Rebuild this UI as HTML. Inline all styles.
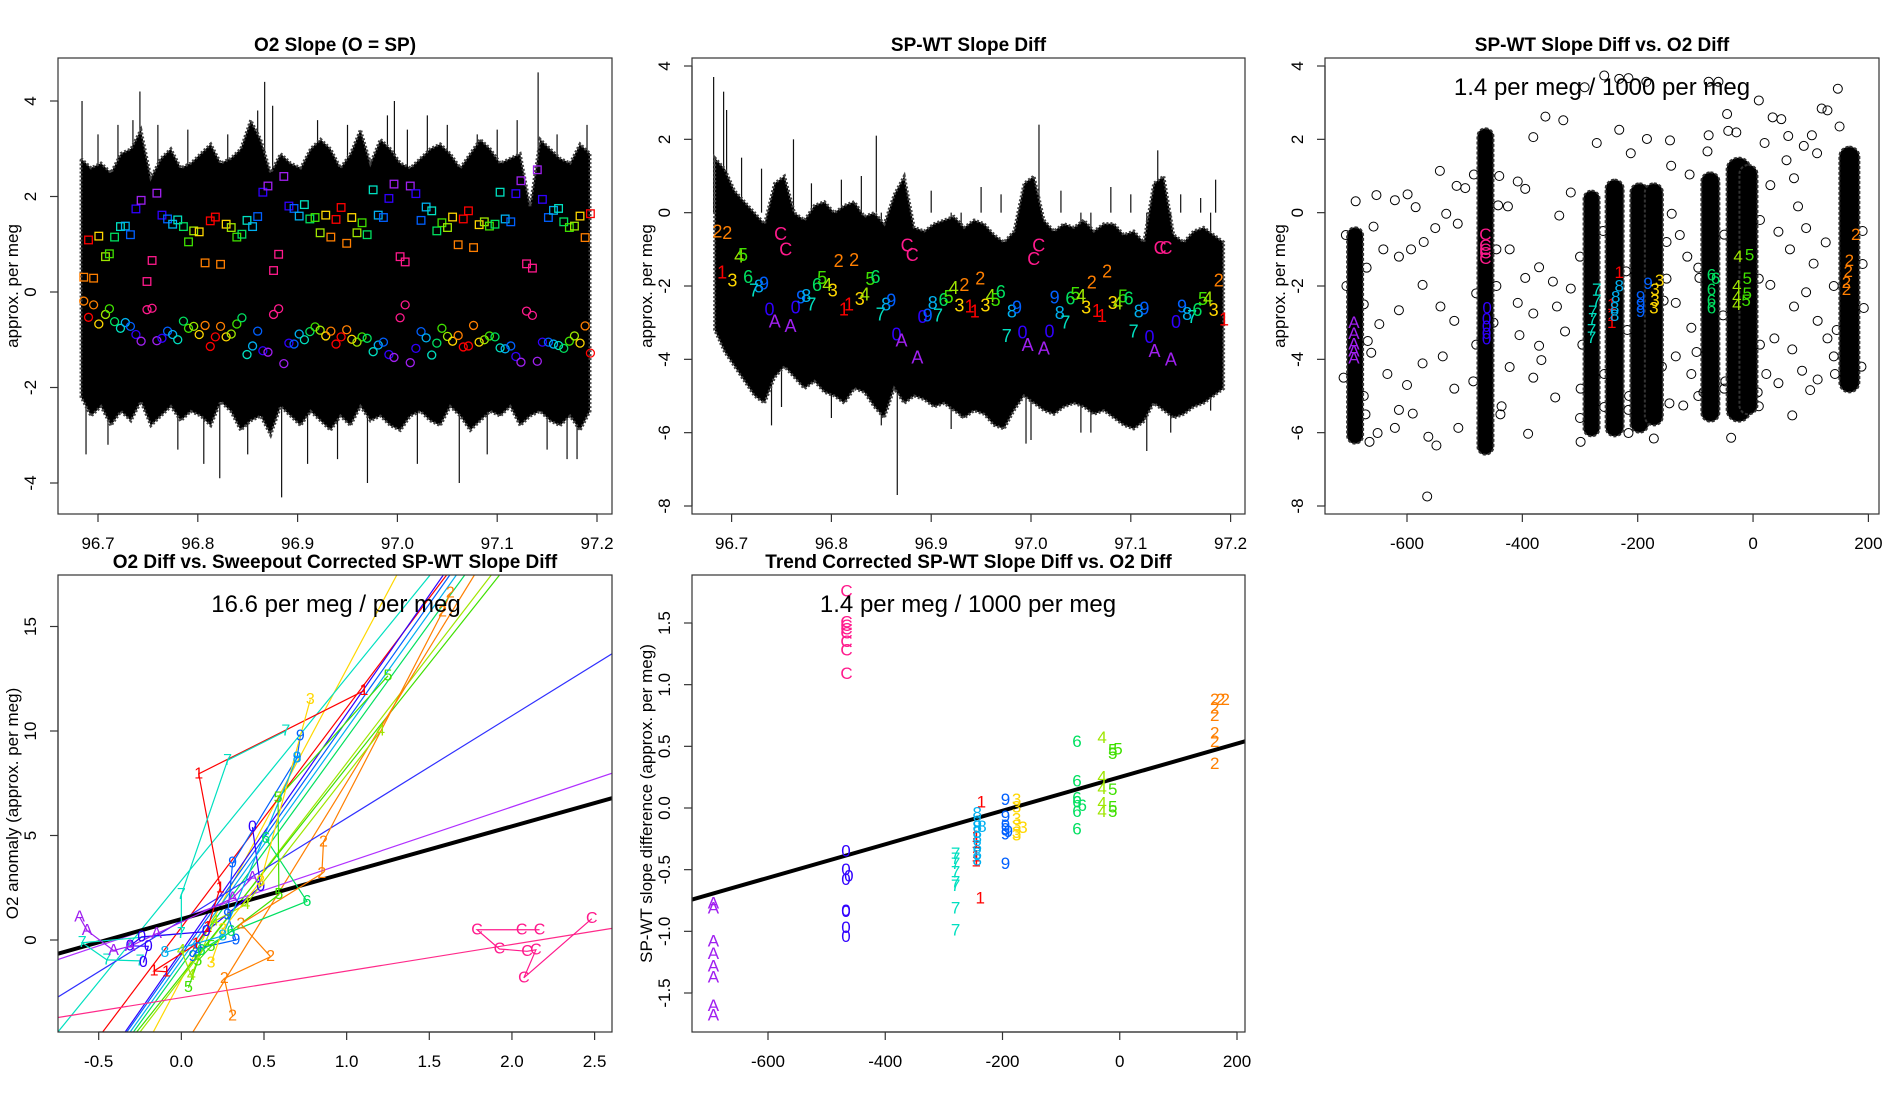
<!DOCTYPE html>
<html><head><meta charset="utf-8"><title>SP-WT slope diagnostics</title>
<style>html,body{margin:0;padding:0;background:#fff;width:1900px;height:1100px;overflow:hidden}svg{display:block;font-family:"Liberation Sans",sans-serif}</style>
</head><body>
<svg id="fig" width="1900" height="1100" viewBox="0 0 1900 1100" xmlns="http://www.w3.org/2000/svg"></svg>
<script>
// ---------- DATA ----------
const labelColors = {"1":"#ff0000","2":"#ff7f00","3":"#ffd700","4":"#9fe600","5":"#3fe000","6":"#00e060","7":"#00e0c0","8":"#00b0f0","9":"#0060ff","0":"#3000ff","A":"#a020f0","C":"#ff1a8c"};
const labelSeq = "21234567890ACC"+"A09876543211234567890ACC"+"A09876543211234567890ACC"+"A09876543211234567890ACC"+"A0987654321";
const envTimes = [96.683,96.693,96.703,96.713,96.723,96.733,96.743,96.753,96.763,96.773,96.783,96.793,96.803,96.813,96.823,96.833,96.843,96.853,96.863,96.873,96.883,96.893,96.903,96.913,96.923,96.933,96.943,96.953,96.963,96.973,96.983,96.993,97.003,97.013,97.023,97.033,97.043,97.053,97.063,97.073,97.083,97.093,97.103,97.113,97.123,97.133,97.143,97.153,97.163,97.173,97.183,97.193];
const upper1 = [2.8,2.6,2.7,2.5,2.9,3.0,3.4,2.4,2.8,3.0,2.6,2.7,2.9,3.1,2.7,2.8,3.0,3.6,3.2,2.5,2.9,2.7,2.6,3.0,3.2,3.0,2.6,2.9,3.4,2.7,3.2,3.0,2.7,2.6,2.8,3.0,3.1,2.9,2.6,2.9,3.2,3.0,2.7,2.8,2.9,1.8,3.2,3.0,2.8,2.7,3.1,2.9];
const lower1 = [-2.2,-2.6,-2.4,-2.8,-2.5,-2.7,-2.3,-2.8,-2.6,-2.4,-2.7,-2.5,-2.6,-2.8,-2.3,-2.5,-2.9,-2.7,-2.6,-3.0,-2.4,-2.6,-2.8,-2.5,-2.7,-2.9,-2.6,-2.8,-2.4,-2.7,-2.6,-2.8,-2.9,-2.6,-2.5,-2.7,-2.8,-2.4,-2.6,-2.9,-2.7,-2.5,-2.6,-2.4,-2.8,-2.6,-2.5,-2.7,-2.8,-2.6,-2.9,-2.5];
const spikeT1 = [96.684,96.688,96.742,96.806,96.822,96.867,96.884,96.97,96.997,97.062,97.141,97.18,97.19,96.72,96.91,97.03,96.70,96.735,96.76,96.79,96.83,96.86,96.875,96.92,96.95,96.99,97.01,97.05,97.08,97.10,97.12,97.16,96.71,96.78,96.85,96.94,97.02,97.09,97.15,97.17];
const spikeV1 = [4.0,-3.4,4.2,-3.6,-3.9,4.4,-4.3,-4.0,4.0,-4.0,4.6,-3.5,3.5,3.5,-3.6,3.7,3.3,3.6,3.5,3.4,3.3,3.8,3.9,3.6,3.5,3.7,3.4,3.5,3.3,3.4,3.6,3.3,-3.2,-3.3,-3.4,-3.5,-3.6,-3.4,-3.3,-3.5];

const upper2 = [1.5,1.2,0.6,0.3,0.0,-0.3,0.8,1.0,0.0,-0.2,0.2,0.3,0.0,0.2,0.3,-0.1,0.0,-0.3,0.5,1.0,-0.4,-0.5,-0.3,-0.2,-0.1,-0.4,-0.2,-0.3,-0.6,-0.8,-0.5,0.8,1.0,-0.2,-0.5,-0.3,-0.4,-0.2,-0.5,-0.3,-0.3,-0.6,-0.5,-0.8,0.8,1.0,-0.6,-0.8,-0.5,-0.4,-0.6,-0.8];
const lower2 = [-3.2,-3.8,-4.2,-4.6,-5.0,-5.2,-4.5,-4.2,-4.5,-4.8,-4.6,-4.9,-5.0,-5.2,-4.8,-4.9,-5.3,-5.6,-4.8,-5.2,-5.0,-5.1,-5.3,-5.2,-5.4,-5.6,-5.4,-5.5,-5.8,-5.9,-5.4,-5.0,-5.2,-5.4,-5.5,-5.3,-5.2,-5.3,-5.5,-5.4,-5.6,-5.8,-5.9,-5.7,-5.2,-5.4,-5.6,-5.5,-5.3,-5.2,-5.0,-4.8];
const spikeT2 = [96.682,96.692,96.695,96.762,96.845,96.866,97.008,97.127,96.93,97.116,96.995,96.74,97.06,96.71,96.73,96.78,96.81,96.83,96.90,96.95,96.97,97.03,97.08,97.10,97.15,97.17,97.185,96.75,96.80,96.85,96.92,97.00,97.05,97.14,97.18];
const spikeV2 = [3.7,3.3,2.8,2.0,2.1,-7.7,2.4,1.7,-5.6,-6.5,-6.3,-5.8,-6.0,1.5,1.2,0.8,0.9,1.0,0.6,0.7,0.5,0.6,0.7,0.5,0.5,0.4,0.9,-5.3,-5.6,-5.8,-5.9,-6.2,-6.0,-6.0,-5.4];
const times2 = [96.6857,96.6956,96.7075,96.7114,96.6905,96.7008,96.7166,96.7225,96.7274,96.7325,96.738,96.7432,96.7491,96.7542,
96.759,96.7641,96.7697,96.7748,96.7799,96.7856,96.7907,96.7959,96.8014,96.8073,96.8125,96.8176,96.8228,96.8284,96.8335,96.8391,96.8442,96.8493,96.8549,96.86,96.8652,96.8703,96.8759,96.881,
96.8862,96.8913,96.8964,96.9068,96.9016,96.9123,96.9175,96.9226,96.9282,96.9333,96.9385,96.9436,96.9492,96.9543,96.9595,96.9646,96.9697,96.9757,96.9808,96.986,96.9915,96.9966,97.0027,97.0078,
97.0129,97.0185,97.0237,97.0288,97.0344,97.0395,97.0446,97.0502,97.0553,97.0609,97.066,97.0712,97.0763,97.0819,97.0871,97.0922,97.0978,97.1029,97.108,97.1136,97.1187,97.1238,97.1294,97.1353,
97.1402,97.1453,97.1513,97.1564,97.1615,97.1667,97.1723,97.1774,97.183,97.1881,97.1934];
const vals2 = [-0.52,-0.56,-1.2,-1.15,-1.63,-1.85,-1.76,-2.12,-2.02,-1.93,-2.64,-2.97,-0.58,-1.0,
-3.09,-2.58,-2.32,-2.27,-2.51,-1.97,-1.78,-1.97,-2.12,-1.32,-2.64,-2.51,-1.29,-2.36,-2.23,-1.81,-1.75,-2.78,-2.51,-2.39,-3.32,-3.48,-0.9,-1.15,
-3.95,-2.85,-2.8,-2.8,-2.46,-2.38,-2.3,-2.05,-2.53,-1.97,-2.56,-2.7,-1.8,-2.53,-2.27,-2.38,-2.17,-3.37,-2.7,-2.58,-3.27,-3.61,-1.26,-0.9,
-3.7,-3.24,-2.32,-2.73,-3.0,-2.34,-2.22,-2.27,-2.58,-1.91,-2.68,-2.82,-1.61,-2.46,-2.48,-2.29,-2.34,-3.24,-2.7,-2.61,-3.39,-3.77,-0.97,-0.97,
-4.0,-2.98,-2.56,-2.77,-2.85,-2.66,-2.36,-2.34,-2.66,-1.85,-2.92];
const labs2 = "22451367890ACC"+"A09876543211234567890ACC"+"A09786543211234567890ACC"+"A09876543211234567890ACC"+"A0987654321";
const squares1 = [0.31,1.09,0.29,1.17,0.74,0.8,1.15,1.37,1.38,1.2,1.74,1.92,0.22,0.66,2.07,1.61,1.53,1.42,1.51,1.37,1.05,1.28,1.26,0.61,1.49,1.57,0.58,1.42,1.35,1.15,1.21,1.5,1.37,1.58,2.09,2.22,0.45,0.79,2.42,1.8,1.75,1.59,1.83,1.53,1.56,1.24,1.61,1.15,1.52,1.77,1.02,1.56,1.24,1.45,1.2,2.14,1.61,1.56,1.96,2.26,0.74,0.63,2.22,2.06,1.5,1.78,1.7,1.28,1.45,1.35,1.57,0.99,1.53,1.7,0.93,1.41,1.47,1.38,1.42,2.09,1.53,1.47,2.06,2.33,0.59,0.5,2.56,1.94,1.56,1.71,1.75,1.47,1.35,1.38,1.59,1.14,1.64];
const circles1 = [-0.19,-0.53,-0.27,-0.67,-0.47,-0.35,-0.62,-0.76,-0.64,-0.72,-0.89,-1.03,-0.37,-0.34,-1.02,-0.97,-0.82,-0.89,-1.0,-0.61,-0.76,-0.72,-0.89,-0.7,-1.14,-0.94,-0.72,-0.94,-0.88,-0.67,-0.54,-1.31,-1.13,-0.82,-1.23,-1.26,-0.47,-0.35,-1.5,-1.07,-1.09,-0.88,-1.0,-0.83,-0.73,-0.8,-0.92,-0.82,-1.09,-0.94,-0.79,-0.99,-1.05,-0.94,-0.97,-1.25,-1.11,-1.05,-1.31,-1.37,-0.54,-0.27,-1.48,-1.18,-0.83,-0.96,-1.32,-1.07,-0.76,-0.93,-1.03,-0.91,-1.15,-1.13,-0.7,-1.05,-1.0,-0.92,-0.94,-1.17,-1.19,-1.13,-1.35,-1.47,-0.4,-0.49,-1.45,-1.05,-1.05,-1.09,-1.12,-1.18,-1.03,-0.92,-1.07,-0.71,-1.28];

const clusterX3 = [-690,-464,-280,-240,-197,-172,-74,-25,-8,167];
const clusterTop3 = [-0.4,2.3,0.6,0.9,0.8,0.8,1.1,1.5,1.3,1.8];
const clusterBot3 = [-6.3,-6.6,-6.1,-6.1,-6.0,-5.8,-5.7,-5.7,-5.5,-4.9];
const clusterW3 = [16,16,16,18,18,18,18,24,18,20];
const scatX3 = [-706,-689,-653,-621,-599,-585,-543,-514,-499,-484,-658,-641,-614,-593,-571,-551,-532,-512,-573,-542,-518,-614,-648,-662,-634,-600,-573,-538,-518,-614,-651,-621,-590,-563,-549,-511,-565,-665,
-425,-408,-395,-381,-360,-329,-336,-316,-422,-395,-371,-347,-316,-408,-381,-340,-405,-371,-326,-422,-381,-343,-390,-436,-367,
-271,-232,-184,-212,-144,-142,-110,-77,-79,-45,-43,-29,-141,-127,-114,-93,-134,-107,-134,-107,-86,-66,-38,-299,-216,-172,-121,-299,-216,
10,20,30,34,49,61,58,71,78,88,102,111,119,129,147,150,44,64,92,105,126,30,71,92,112,129,37,68,85,112,99,23,44,68,140,10,
-77,-60,-258,-292,-232,-216,-185,
-670,-675,-668,-705,-710,-672,-440,-445,-450,-480,-485,-438,-442,-300,-296,-260,-258,-220,-218,-215,-150,-155,-158,-145,-95,-98,-50,-52,-48,10,12,8,140,145,190,192,188,-675,-480,-445,-300,-258,-150,-95,-50,12,142,190];
const scatY3 = [-0.61,0.31,0.48,0.34,0.5,0.15,1.14,0.73,0.67,1.04,-0.38,-1.0,-1.2,-1.0,-0.8,-0.42,-0.03,-0.3,-1.97,-2.56,-2.95,-2.66,-3.04,-3.82,-4.4,-4.7,-4.11,-3.92,-4.8,-5.38,-6.01,-5.87,-5.48,-6.11,-6.35,-5.87,-7.74,-6.25,
0.17,0.85,0.65,2.06,2.62,2.52,-0.08,0.55,-1.0,-1.78,-1.49,-1.88,-2.07,-2.46,-2.75,-2.56,-3.34,-3.63,-3.24,-4.21,-4.5,-5.04,-6.03,-5.28,-4.02,
1.9,2.26,2.01,1.62,1.97,1.28,1.04,2.11,1.67,2.69,2.23,2.19,-0.03,-0.61,-1.2,-1.78,-2.46,-3.14,-3.92,-4.4,-4.9,-5.18,-6.14,-6.25,-6.01,-6.16,-5.26,-4.8,-5.38,
3.06,1.9,0.75,2.6,2.55,2.09,1.43,0.94,0.17,1.82,2.11,1.62,2.84,2.79,3.38,2.35,-0.52,-1.0,-0.42,-1.39,-0.81,-1.97,-2.56,-2.17,-2.95,-3.43,-3.43,-3.73,-4.31,-4.55,-4.84,-4.4,-4.65,-5.53,-3.92,-5.28,
3.57,3.57,3.74,3.42,3.65,3.67,3.57,
-1.5,-2.5,-3.5,-2.0,-4.5,-5.5,1.0,-1.0,-3.0,-2.2,-4.6,-5.5,0.2,-1.2,-3.6,-0.5,-4.4,-1.6,-3.2,-5.0,-0.8,-2.4,-4.2,-5.2,-1.5,-3.8,-0.6,-2.8,-4.6,-1.8,-3.6,-4.9,-2.0,-3.2,-0.5,-2.6,-4.2,-5.0,-3.6,-2.0,-5.6,-5.3,-1.8,-5.0,-4.8,-0.2,-4.4,-1.4];
const labX3 = [-692,-692,-692,-692,-692,-464,-464,-464,-464,-464,-461,-462,-462,-462,-462,-271,-271,-278,-278,-280,-280,-232,-245,-245,-245,-232,-238,-240,-240,-182,-195,-195,-195,-162,-170,-170,-172,-72,-65,-72,-72,-72,-26,-28,-28,-28,-6,-10,-10,-12,178,167,165,162,162];
const labY3 = [-3.0,-3.3,-3.58,-3.77,-3.97,-0.6,-0.9,-1.0,-1.1,-1.25,-2.6,-2.9,-3.1,-3.3,-3.45,-2.1,-2.4,-2.7,-2.9,-3.2,-3.4,-1.63,-2.5,-2.8,-3.0,-2.0,-2.3,-2.6,-2.8,-1.93,-2.3,-2.5,-2.7,-1.85,-2.1,-2.4,-2.6,-1.7,-1.8,-2.1,-2.4,-2.6,-1.2,-2.0,-2.3,-2.5,-1.15,-1.8,-2.2,-2.4,-0.6,-1.3,-1.6,-1.9,-2.1];
const labs3 = "AAAAACCCCC000007777771111888899993333666664444555522222";

const fitLabels4 = ["3","7","1","9","8","0","6","4","5","2"];
const fitSlope4 = [14.84,9.71,10.51,11.19,11.08,11.36,10.91,10.29,9.96,12.84];
const fitInt4 = [-1.88,2.85,0.6,-0.71,-0.97,-0.54,-1.24,-1.83,-1.71,-5.3];
const extraSlope4 = [4.9,2.66,1.273];
const extraInt4 = [0.93,1.05,-2.76];
const extraColor4 = ["#3030ff","#b030ff","#ff2a8a"];
const meanSlope4 = 2.22, meanInt4 = 1.0;
const trajLab4 = "CCCCCCCC"+"1111111"+"7777777"+"9999999"+"0000000"+"AAAAAAA"+"555555"+"6666"+"44444"+"22222222"+"3333"+"888";
const trajX4 = [2.167,2.059,1.789,1.924,2.091,2.145,2.072,2.483, 1.105,0.105,0.235,0.16,0.09,-0.165,-0.09, 0.632,0.28,0.0,0.0,-0.6,-0.45,-0.25, 0.72,0.70,0.31,0.28,0.33,0.1,0.07, 0.43,0.48,0.15,-0.24,-0.31,-0.2,-0.23, -0.616,-0.57,-0.41,-0.31,-0.15,0.31,0.43, 1.25,0.585,0.59,0.18,0.1,0.043, 0.51,0.76,0.3,0.12, 1.205,0.39,0.2,0.06,0.0, 1.627,1.58,0.86,0.85,0.36,0.54,0.26,0.31, 0.78,0.48,0.25,0.18, 0.70,0.25,-0.1];
const trajY4 = [0.49,0.49,0.49,-0.43,-0.54,-0.47,-1.81,1.02, 11.93,7.95,2.5,0.6,-0.2,-1.48,-1.52, 10.0,8.6,2.17,0.3,-0.13,-0.95,-1.0, 9.76,8.72,3.68,1.2,0.0,-0.4,-0.8, 5.4,2.56,0.4,0.15,-0.28,-0.3,-1.08, 1.1,0.45,-0.5,-0.3,0.3,2.0,3.0, 12.64,6.79,2.17,-0.3,-1.0,-2.28, 4.86,1.85,0.4,-0.5, 9.99,1.7,0.9,-1.7,-0.5, 16.6,15.7,4.7,3.18,0.77,-0.8,-1.84,-3.63, 11.5,2.81,0.5,-1.1, 8.72,0.2,-0.6];

const x5 = [-693,-693,-693,-693,-693,-693,-693,-693, -466,-466,-466,-466,-466,-466,-466,-466, -467,-467,-467,-467,-467,-467,-467,-462, -280,-280,-280,-280,-280,-280,-280,-280, -245,-245,-245,-245,-236,-238, -243,-243,-243,-243,-243,-243,-243,-243,-235, -195,-195,-195,-195,-195,-195,-190, -176,-176,-176,-176,-176,-176,-165, -73,-73,-73,-73,-73,-73,-64, -30,-30,-30,-30,-30, -12,-12,-12,-12,-12,-3, 162,162,162,162,162,162,172,180];
const y5 = [-0.77,-0.81,-1.08,-1.18,-1.28,-1.37,-1.6,-1.68, 1.76,1.51,1.48,1.45,1.42,1.35,1.28,1.09, -0.35,-0.5,-0.58,-0.83,-0.84,-0.97,-1.04,-0.55, -0.37,-0.41,-0.45,-0.52,-0.6,-0.63,-0.81,-0.99, -0.23,-0.28,-0.39,-0.43,0.05,-0.73, -0.04,-0.11,-0.15,-0.2,-0.24,-0.31,-0.37,-0.42,-0.15, 0.07,-0.07,-0.14,-0.17,-0.21,-0.45,-0.19, 0.07,0.01,-0.09,-0.14,-0.2,-0.22,-0.16, 0.54,0.22,0.08,0.05,-0.03,-0.17,0.02, 0.57,0.25,0.16,0.04,-0.03, 0.47,0.44,0.15,0.01,-0.03,0.48, 0.88,0.81,0.75,0.61,0.54,0.36,0.88,0.88];
const labs5 = "AAAAAAAA"+"CCCCCCCC"+"00000000"+"77777777"+"111111"+"888888888"+"9999999"+"3333333"+"6666666"+"44444"+"555555"+"22222222";
const fitSlope5 = 0.00136, fitInt5 = 0.25;

const ticks1x = [96.7,96.8,96.9,97.0,97.1,97.2];
const ticks1y = [-4,-2,0,2,4];
const ticks2y = [-8,-6,-4,-2,0,2,4];
const ticks3x = [-600,-400,-200,0,200];
const ticks4x = [-0.5,0.0,0.5,1.0,1.5,2.0,2.5];
const ticks4y = [0,5,10,15];
const ticks5y = [-1.5,-1.0,-0.5,0.0,0.5,1.0,1.5];

// ---------- DRAWING ----------
const NS = "http://www.w3.org/2000/svg";
const svg = document.getElementById("fig");
function mk(tag, attrs, parent){ const e=document.createElementNS(NS,tag); for(const k in attrs) e.setAttribute(k,attrs[k]); (parent||svg).appendChild(e); return e; }
function lin(d0,p0,d1,p1){ const f = v => p0 + (v-d0)*(p1-p0)/(d1-d0); f.inv = p => d0 + (p-p0)*(d1-d0)/(p1-p0); return f; }
const defs = mk("defs",{});

function panel(id, box, sx, sy, title, ylab, xt, yt, xfmt, yfmt){
  const g = mk("g",{});
  
  
  const cp = mk("clipPath",{id:"clip-"+id},defs);
  mk("rect",{x:box[0],y:box[2],width:box[1]-box[0],height:box[3]-box[2]},cp);
  const plot = mk("g",{"clip-path":"url(#clip-"+id+")"},g);
  
  
  const fr = mk("rect",{x:box[0],y:box[2],width:box[1]-box[0],height:box[3]-box[2],fill:"none",stroke:"#333","stroke-width":1.2},g);
  
  
  const t = mk("text",{x:(box[0]+box[1])/2,y:box[2]-7,"text-anchor":"middle","font-size":19,"font-weight":"bold"},g);
  t.textContent = title;
  
  
  const xa = mk("g",{},g);
  
  
  mk("line",{x1:sx(xt[0]),x2:sx(xt[xt.length-1]),y1:box[3],y2:box[3],stroke:"#333","stroke-width":1.2},xa);
  xt.forEach(v=>{
    mk("line",{x1:sx(v),x2:sx(v),y1:box[3],y2:box[3]+8,stroke:"#333","stroke-width":1.2},xa);
    const l = mk("text",{x:sx(v),y:box[3]+35,"text-anchor":"middle","font-size":17},xa);
    l.textContent = xfmt(v);
    
    
  });
  const ya = mk("g",{},g);
  
  
  mk("line",{x1:box[0],x2:box[0],y1:sy(yt[0]),y2:sy(yt[yt.length-1]),stroke:"#333","stroke-width":1.2},ya);
  yt.forEach(v=>{
    mk("line",{x1:box[0]-8,x2:box[0],y1:sy(v),y2:sy(v),stroke:"#333","stroke-width":1.2},ya);
    const cx = box[0]-22;
    const l = mk("text",{x:cx,y:sy(v),"text-anchor":"middle","font-size":17,transform:"rotate(-90 "+cx+" "+sy(v)+")"},ya);
    l.textContent = yfmt(v);
    
    
  });
  const yx = box[0]-40, ym=(box[2]+box[3])/2;
  const yl = mk("text",{x:yx,y:ym,"text-anchor":"middle","font-size":17,transform:"rotate(-90 "+yx+" "+ym+")"},g);
  yl.textContent = ylab;
  
  
  return plot;
}
const f1 = v=>v.toFixed(1), f0 = v=>String(v);

// clip an infinite line y = a + m x to the plot box; returns pixel endpoints
function clipLine(box, sx, sy, a, m){
  const xL = sx.inv(box[0]), xR = sx.inv(box[1]);
  const yT = sy.inv(box[2]), yB = sy.inv(box[3]);
  let x1 = xL, x2 = xR;
  if (m !== 0){
    const xa = (yB - a)/m, xb = (yT - a)/m;
    const lo = Math.min(xa,xb), hi = Math.max(xa,xb);
    x1 = Math.max(x1, lo); x2 = Math.min(x2, hi);
  }
  return [sx(x1), sy(a+m*x1), sx(x2), sy(a+m*x2)];
}

function band(plot, sx, sy, up, lo, name){
  let pts = envTimes.map((t,i)=>sx(t)+","+sy(up[i]));
  for(let i=envTimes.length-1;i>=0;i--) pts.push(sx(envTimes[i])+","+sy(lo[i]));
  const p = mk("polygon",{points:pts.join(" "),fill:"#000",stroke:"#444","stroke-width":3,"stroke-dasharray":"2 2"},plot);
  
  
}
function spikes(plot, sx, sy, ts, vs){
  ts.forEach((t,i)=>{
    const s = mk("line",{x1:sx(t),x2:sx(t),y1:sy(0),y2:sy(vs[i]),stroke:"#111","stroke-width":1.2},plot);
    
    
  });
}
function lab(plot, x, y, ch, size){
  const t = mk("text",{x:x,y:y,"text-anchor":"middle","dominant-baseline":"central","font-size":size,fill:labelColors[ch]},plot);
  t.textContent = ch;
  
  
}

// Panel 1
{
  const box=[58,612,58,514];
  const sx=lin(96.7,98,97.2,597), sy=lin(4,101,-4,483);
  const plot = panel("o2-slope-panel",box,sx,sy,"O2 Slope (O = SP)","approx. per meg",ticks1x,ticks1y,f1,f0);
  spikes(plot,sx,sy,spikeT1,spikeV1);
  band(plot,sx,sy,upper1,lower1,"o2-slope-series");
  const tt = times2.slice().sort((a,b)=>a-b);
  tt.forEach((t,i)=>{
    const c = labelColors[labelSeq[i]];
    const s = mk("rect",{x:sx(t)-3.8,y:sy(squares1[i])-3.8,width:7.6,height:7.6,fill:"none",stroke:c,"stroke-width":1.3},plot);
    
    
    const o = mk("circle",{cx:sx(t),cy:sy(circles1[i]),r:4,fill:"none",stroke:c,"stroke-width":1.3},plot);
    
    
  });
}
// Panel 2
{
  const box=[692,1245,58,514];
  const sx=lin(96.7,731.6,97.2,1230.6), sy=lin(4,66,-8,506);
  const plot = panel("sp-wt-slope-diff-panel",box,sx,sy,"SP-WT Slope Diff","approx. per meg",ticks1x,ticks2y,f1,f0);
  spikes(plot,sx,sy,spikeT2,spikeV2);
  band(plot,sx,sy,upper2,lower2,"slope-diff-series");
  times2.forEach((t,i)=>lab(plot,sx(t),sy(vals2[i]),labs2[i],18));
}
// Panel 3
{
  const box=[1325,1879,58,514];
  const sx=lin(-600,1407,200,1868.4), sy=lin(4,66,-8,506);
  const plot = panel("slope-diff-vs-o2-panel",box,sx,sy,"SP-WT Slope Diff vs. O2 Diff","approx. per meg",ticks3x,ticks2y,f0,f0);
  scatX3.forEach((x,i)=>{
    const o = mk("circle",{cx:sx(x),cy:sy(scatY3[i]),r:4.5,fill:"none",stroke:"#000","stroke-width":1},plot);
    
    
  });
  clusterX3.forEach((x,i)=>{
    const w = clusterW3[i];
    const r = mk("rect",{x:sx(x)-w/2,y:sy(clusterTop3[i]),width:w,height:sy(clusterBot3[i])-sy(clusterTop3[i]),rx:w/2,fill:"#000",stroke:"#333","stroke-width":2,"stroke-dasharray":"3 2"},plot);
    
    
  });
  labX3.forEach((x,i)=>lab(plot,sx(x),sy(labY3[i]),labs3[i],17));
  const a = mk("text",{x:(box[0]+box[1])/2,y:95,"text-anchor":"middle","font-size":24},svg);
  a.textContent = "1.4 per meg / 1000 per meg";
  
  
}
// Panel 4
{
  const box=[58,612,575,1032];
  const sx=lin(-0.5,98.7,2.5,594.6), sy=lin(0,940,15,626.5);
  const plot = panel("o2-vs-sweepout-panel",box,sx,sy,"O2 Diff vs. Sweepout Corrected SP-WT Slope Diff","O2 anomaly (approx. per meg)",ticks4x,ticks4y,f1,f0);
  fitSlope4.forEach((m,i)=>{
    const c = clipLine(box,sx,sy,fitInt4[i],m);
    const l = mk("line",{x1:c[0],y1:c[1],x2:c[2],y2:c[3],stroke:labelColors[fitLabels4[i]],"stroke-width":1.2},plot);
    
    
  });
  extraSlope4.forEach((m,i)=>{
    const c = clipLine(box,sx,sy,extraInt4[i],m);
    const l = mk("line",{x1:c[0],y1:c[1],x2:c[2],y2:c[3],stroke:extraColor4[i],"stroke-width":1.2},plot);
    
    
  });
  const cm = clipLine(box,sx,sy,meanInt4,meanSlope4);
  const ml = mk("line",{x1:cm[0],y1:cm[1],x2:cm[2],y2:cm[3],stroke:"#000","stroke-width":4},plot);
  
  
  let start=0;
  for(let i=1;i<=trajLab4.length;i++){
    if(i===trajLab4.length || trajLab4[i]!==trajLab4[start]){
      const pts=[]; for(let k=start;k<i;k++) pts.push(sx(trajX4[k])+","+sy(trajY4[k]));
      const p = mk("polyline",{points:pts.join(" "),fill:"none",stroke:labelColors[trajLab4[start]],"stroke-width":1.2},plot);
      
      
      start=i;
    }
  }
  trajX4.forEach((x,i)=>lab(plot,sx(x),sy(trajY4[i]),trajLab4[i],16));
  const a = mk("text",{x:336,y:612,"text-anchor":"middle","font-size":24},svg);
  a.textContent = "16.6 per meg / per meg";
  
  
}
// Panel 5
{
  const box=[692,1245,575,1032];
  const sx=lin(-600,768,200,1237), sy=lin(1.5,623,-1.5,993);
  const plot = panel("trend-corrected-panel",box,sx,sy,"Trend Corrected SP-WT Slope Diff vs. O2 Diff","SP-WT slope difference (approx. per meg)",ticks3x,ticks5y,f0,f1);
  const c = clipLine(box,sx,sy,fitInt5,fitSlope5);
  const l = mk("line",{x1:c[0],y1:c[1],x2:c[2],y2:c[3],stroke:"#000","stroke-width":4},plot);
  
  
  x5.forEach((x,i)=>lab(plot,sx(x),sy(y5[i]),labs5[i],17));
  const a = mk("text",{x:968,y:612,"text-anchor":"middle","font-size":24},svg);
  a.textContent = "1.4 per meg / 1000 per meg";
  
  
}
</script>
</body></html>
